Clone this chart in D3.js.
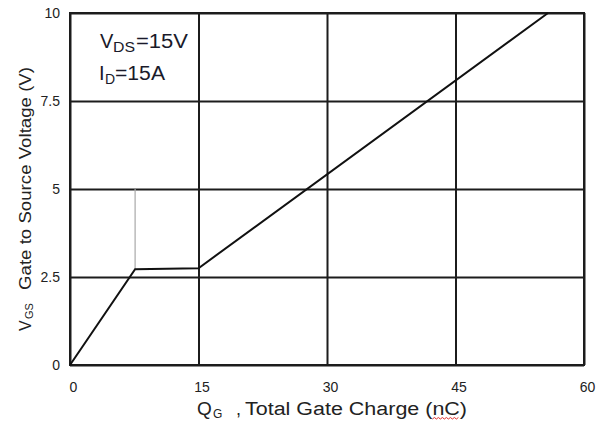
<!DOCTYPE html>
<html>
<head>
<meta charset="utf-8">
<script src="https://cdn.jsdelivr.net/npm/d3@7"></script>
<style>
  body { margin: 0; background: #fff; }
  svg { display: block; }
  text { font-family: "Liberation Sans", Arial, sans-serif; }
</style>
</head>
<body>
<svg id="chart" width="606" height="428"></svg>
<script>
// Gate charge curve: total gate charge (nC) vs gate-to-source voltage (V)
const gateCharge  = [0, 7.6, 15, 55.8];
const gateVoltage = [0, 2.72, 2.75, 10];

// Thin marker rising from the start of the Miller plateau
const markerCharge = 7.6;
const markerFrom = 2.72;
const markerTo = 5;

const xTicks = [0, 15, 30, 45, 60];
const xTickLabels = ["0", "15", "30", "45", "60"];
const yTicks = [0, 2.5, 5, 7.5, 10];
const yTickLabels = ["0", "2.5", "5", "7.5", "10"];

const svg = d3.select("#chart");
const plotLeft = 70, plotRight = 584, plotTop = 13, plotBottom = 365;

const x = d3.scaleLinear().domain([0, 60]).range([plotLeft, plotRight]);
const y = d3.scaleLinear().domain([0, 10]).range([plotBottom, plotTop]);

const gridColor = "#1c1c1c";
const labelColor = "#222";

// Vertical grid + x tick labels
const xAxis = svg.append("g")
  .attr("transform", `translate(0,${plotBottom})`)
  .call(d3.axisBottom(x)
    .tickValues(xTicks)
    .tickSize(-(plotBottom - plotTop))
    .tickPadding(17)
    .tickFormat((d, i) => xTickLabels[i]));
xAxis.select(".domain").remove();
xAxis.selectAll(".tick line").attr("stroke", gridColor).attr("stroke-width", 2);
xAxis.selectAll(".tick text")
  .attr("fill", labelColor)
  .attr("font-size", 14)
  .attr("dx", 3)
  .style("font-family", "'Liberation Sans', Arial, sans-serif");

// Horizontal grid + y tick labels
const yAxis = svg.append("g")
  .attr("transform", `translate(${plotLeft},0)`)
  .call(d3.axisLeft(y)
    .tickValues(yTicks)
    .tickSize(-(plotRight - plotLeft))
    .tickPadding(10)
    .tickFormat((d, i) => yTickLabels[i]));
yAxis.select(".domain").remove();
yAxis.selectAll(".tick line").attr("stroke", gridColor).attr("stroke-width", 2);
yAxis.selectAll(".tick text")
  .attr("fill", labelColor)
  .attr("font-size", 14)
  .style("font-family", "'Liberation Sans', Arial, sans-serif");

// Plot frame
svg.append("rect")
  .attr("x", plotLeft).attr("y", plotTop)
  .attr("width", plotRight - plotLeft).attr("height", plotBottom - plotTop)
  .attr("fill", "none")
  .attr("stroke", gridColor)
  .attr("stroke-width", 2);

// Plateau marker
svg.append("line")
  .attr("x1", x(markerCharge)).attr("x2", x(markerCharge))
  .attr("y1", y(markerFrom)).attr("y2", y(markerTo))
  .attr("stroke", "#a8a8a8")
  .attr("stroke-width", 1.2);

// Gate charge curve
const pts = gateCharge.map((q, i) => [q, gateVoltage[i]]);
svg.append("path")
  .datum(pts)
  .attr("fill", "none")
  .attr("stroke", "#111")
  .attr("stroke-width", 2)
  .attr("d", d3.line().x(d => x(d[0])).y(d => y(d[1])));

// Test conditions
const condColor = "#1a1a2a";
const cond1 = svg.append("g").attr("fill", condColor);
cond1.append("text").attr("x", 100).attr("y", 48).attr("font-size", 20).text("V");
cond1.append("text").attr("x", 113).attr("y", 52).attr("font-size", 14)
  .attr("textLength", 22).attr("lengthAdjust", "spacingAndGlyphs").text("DS");
cond1.append("text").attr("x", 136).attr("y", 48).attr("font-size", 20)
  .attr("textLength", 52).attr("lengthAdjust", "spacingAndGlyphs").text("=15V");

const cond2 = svg.append("g").attr("fill", condColor);
cond2.append("text").attr("x", 99).attr("y", 80).attr("font-size", 20).text("I");
cond2.append("text").attr("x", 105).attr("y", 84).attr("font-size", 14).text("D");
cond2.append("text").attr("x", 115).attr("y", 80).attr("font-size", 20)
  .attr("textLength", 50).attr("lengthAdjust", "spacingAndGlyphs").text("=15A");

// X axis title
const xt = svg.append("g").attr("fill", "#222");
xt.append("text").attr("x", 197).attr("y", 415).attr("font-size", 19).text("Q");
xt.append("text").attr("x", 213).attr("y", 418).attr("font-size", 12).text("G");
xt.append("text").attr("x", 236).attr("y", 415).attr("font-size", 18).text(",");
const xTitle = xt.append("text").attr("x", 245).attr("y", 415).attr("font-size", 18)
  .attr("textLength", 222).attr("lengthAdjust", "spacingAndGlyphs")
  .text("Total Gate Charge (nC)");

// Spell-check squiggle under "nC"
(function () {
  const node = xTitle.node();
  const s = node.textContent.indexOf("nC");
  const x0 = node.getStartPositionOfChar(s).x;
  const x1 = node.getEndPositionOfChar(s + 1).x;
  const yy = 419;
  let d = `M${x0},${yy}`;
  let up = true;
  for (let xx = x0 + 2; xx <= x1 + 0.1; xx += 2) {
    d += ` L${xx},${up ? yy - 1.5 : yy}`;
    up = !up;
  }
  svg.append("path").attr("d", d).attr("fill", "none").attr("stroke", "#e03030").attr("stroke-width", 1);
})();

// Y axis title (rotated)
const yt = svg.append("g").attr("transform", "translate(31,0) rotate(-90)").attr("fill", "#222");
yt.append("text").attr("x", -331).attr("y", 0).attr("font-size", 16).text("V");
yt.append("text").attr("x", -319).attr("y", 2).attr("font-size", 11).text("GS");
yt.append("text").attr("x", -290).attr("y", 0).attr("font-size", 17)
  .attr("textLength", 223).attr("lengthAdjust", "spacingAndGlyphs")
  .text("Gate to Source Voltage (V)");
</script>
</body>
</html>
